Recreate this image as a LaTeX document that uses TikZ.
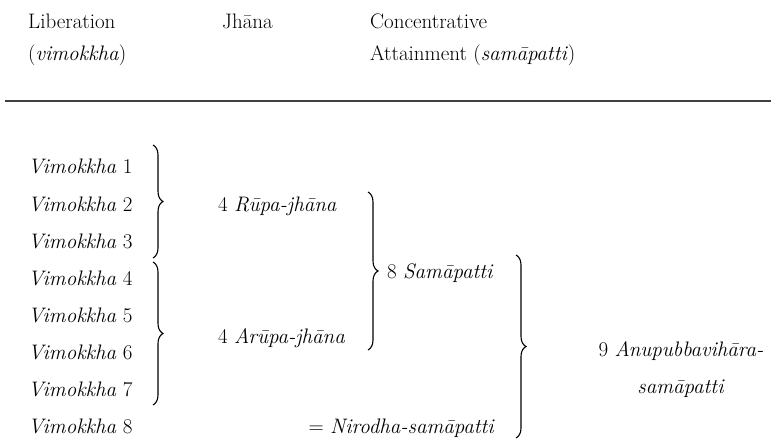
\documentclass[tikz,border=0pt]{standalone}
\usepackage{fontspec}
\usepackage{tikz}
\usetikzlibrary{decorations.pathreplacing}
\tikzstyle{entry} = [inner sep=0,anchor=base west,font=\fontsize{21}{37}\selectfont]
\tikzstyle{heading} = [inner sep=0,anchor=base west,align=left,font=\fontsize{21}{32}\selectfont]
\tikzstyle{curly} = [decorate,decoration={brace,amplitude=\amp},line width=1.1pt]
\def \amp {10pt}

\begin{document}
\begin{tikzpicture}[x=1pt,y=-1pt]
      \useasboundingbox (0,0) rectangle (771,441);
      % column headings (base = last line)
      \node[heading] (lib) at (28,61) {Liberation\\(\textit{vimokkha})};
      \node[heading] (jh) at (222,29) {Jhāna};
      \node[heading] (conc) at (370,61) {Concentrative\\Attainment (\textit{samāpatti})};
      \draw[line width=1.6pt,black!75] (5,101) -- (771,101);
      % the eight liberations
      \node[entry] (v1) at (28,174) {\textit{Vimokkha} 1};
      \node[entry] (v2) at (28,211) {\textit{Vimokkha} 2};
      \node[entry] (v3) at (28,248) {\textit{Vimokkha} 3};
      \node[entry] (v4) at (28,285) {\textit{Vimokkha} 4};
      \node[entry] (v5) at (28,322) {\textit{Vimokkha} 5};
      \node[entry] (v6) at (28,359) {\textit{Vimokkha} 6};
      \node[entry] (v7) at (28,396) {\textit{Vimokkha} 7};
      \node[entry] (v8) at (28,433) {\textit{Vimokkha} 8};
      % groupings
      \node[entry] (rupa) at (218,211) {4 \textit{Rūpa-jhāna}};
      \node[entry] (arupa) at (218,343) {4 \textit{Arūpa-jhāna}};
      \node[entry] (sam) at (387,278) {8 \textit{Samāpatti}};
      \node[entry,anchor=base east] (niro) at (495,433) {= \textit{Nirodha-samāpatti}};
      \node[entry,anchor=base,align=center] (anu) at (681,393) {9 \textit{Anupubbavihāra-}\\\textit{samāpatti}};
      % braces
      \coordinate (b1t) at (153,145);
      \coordinate (b1b) at (153,258);
      \coordinate (b2t) at (153,262);
      \coordinate (b2b) at (153,405);
      \coordinate (b3t) at (368,192);
      \coordinate (b3b) at (368,350);
      \coordinate (b4t) at (516,255);
      \coordinate (b4b) at (516,438);
      \draw[curly] (b1t) -- (b1b);
      \draw[curly] (b2t) -- (b2b);
      \draw[curly] (b3t) -- (b3b);
      \draw[curly] (b4t) -- (b4b);
    \end{tikzpicture}
\end{document}
